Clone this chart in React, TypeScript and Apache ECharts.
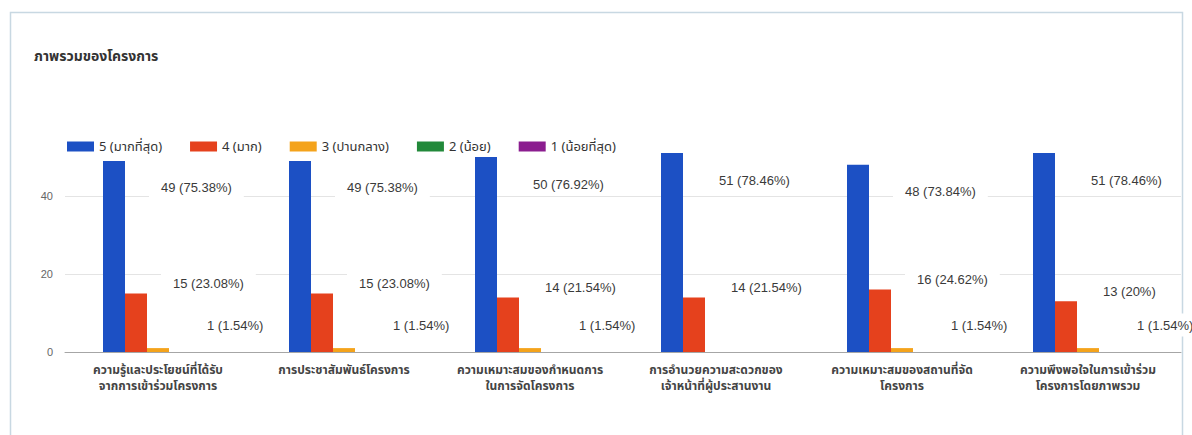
import React, { useEffect, useRef } from "react";
import * as echarts from "echarts";

const titleText = "ภาพรวมของโครงการ";

const categories = [
  "ความรู้และประโยชน์ที่ได้รับ\nจากการเข้าร่วมโครงการ",
  "การประชาสัมพันธ์โครงการ",
  "ความเหมาะสมของกำหนดการ\nในการจัดโครงการ",
  "การอำนวยความสะดวกของ\nเจ้าหน้าที่ผู้ประสานงาน",
  "ความเหมาะสมของสถานที่จัด\nโครงการ",
  "ความพึงพอใจในการเข้าร่วม\nโครงการโดยภาพรวม",
];

const seriesNames = [
  "5 (มากที่สุด)",
  "4 (มาก)",
  "3 (ปานกลาง)",
  "2 (น้อย)",
  "1 (น้อยที่สุด)",
];

const level5 = [49, 49, 50, 51, 48, 51];
const level4 = [15, 15, 14, 14, 16, 13];
const level3 = [1, 1, 1, 0, 1, 1];
const level2 = [0, 0, 0, 0, 0, 0];
const level1 = [0, 0, 0, 0, 0, 0];

const pct5 = ["75.38", "75.38", "76.92", "78.46", "73.84", "78.46"];
const pct4 = ["23.08", "23.08", "21.54", "21.54", "24.62", "20"];
const pct3 = ["1.54", "1.54", "1.54", "0", "1.54", "1.54"];
const pct2 = ["0", "0", "0", "0", "0", "0"];
const pct1 = ["0", "0", "0", "0", "0", "0"];

const yTicks = { min: 0, max: 60, interval: 20 };

const colors = ["#1c50c4", "#e5411d", "#f4a31b", "#22893a", "#8b1d8f"];

const FONT = "'Noto Sans Thai', 'Noto Sans', 'Liberation Sans', sans-serif";

export default function App() {
  const ref = useRef<HTMLDivElement>(null);

  useEffect(() => {
    if (!ref.current) return;
    const chart = echarts.init(ref.current, null, { renderer: "svg" });

    const values = [level5, level4, level3, level2, level1];
    const pcts = [pct5, pct4, pct3, pct2, pct1];
    const labelPos: [number, number][] = [
      [46, 27],
      [36, -10],
      [48, -23],
      [48, -20],
      [48, -20],
    ];

    const series = values.map((vals, si) => ({
      name: seriesNames[si],
      type: "bar",
      data: vals,
      barWidth: 22,
      barGap: "0%",
      itemStyle: { color: colors[si] },
      label: {
        show: si < 3,
        position: labelPos[si],
        align: "left",
        verticalAlign: "middle",
        color: "#3a3a3a",
        fontSize: 13,
        fontFamily: "'Liberation Sans', Arial, sans-serif",
        backgroundColor: "#ffffff",
        padding: [5, 12],
        formatter: (p: any) =>
          p.value > 0 ? `${p.value} (${pcts[si][p.dataIndex]}%)` : "",
      },
    }));

    chart.setOption({
      animation: false,
      textStyle: { fontFamily: FONT },
      title: {
        text: titleText,
        left: 29,
        top: 44,
        textStyle: {
          fontSize: 14,
          fontWeight: "bold",
          color: "#333",
          fontFamily: FONT,
        },
      },
      legend: {
        left: 62,
        top: 135,
        itemWidth: 27,
        itemHeight: 10,
        itemGap: 28,
        icon: "rect",
        data: seriesNames,
        textStyle: { fontSize: 13, color: "#333", fontFamily: FONT },
      },
      grid: { left: 65, right: 11, top: 118, bottom: 83, containLabel: false },
      xAxis: {
        type: "category",
        data: categories,
        axisLine: { lineStyle: { color: "#a6a6a6", width: 1 } },
        axisTick: { show: false },
        axisLabel: {
          interval: 0,
          fontSize: 12,
          fontWeight: "bold",
          color: "#444",
          lineHeight: 16,
          margin: 10,
          fontFamily: FONT,
        },
      },
      yAxis: {
        type: "value",
        min: yTicks.min,
        max: yTicks.max,
        interval: yTicks.interval,
        axisLine: { show: false },
        axisTick: { show: false },
        axisLabel: {
          color: "#666",
          fontSize: 11,
          margin: 12,
          showMaxLabel: false,
          fontFamily: "'Liberation Sans', Arial, sans-serif",
        },
        splitLine: {
          showMaxLine: false,
          lineStyle: { color: "#e4e4e4", width: 1 },
        },
      },
      graphic: [
        {
          type: "rect",
          silent: true,
          z: -10,
          shape: { x: 10.5, y: 12.5, width: 1172, height: 440 },
          style: { fill: "none", stroke: "#c8d8e2", lineWidth: 1.5 },
        },
      ],
      series,
    });

    return () => chart.dispose();
  }, []);

  return (
    <div
      style={{
        position: "absolute",
        left: 0,
        top: 0,
        width: 1192,
        height: 435,
        background: "#fff",
      }}
    >
      <div ref={ref} style={{ width: 1192, height: 435 }} />
    </div>
  );
}
